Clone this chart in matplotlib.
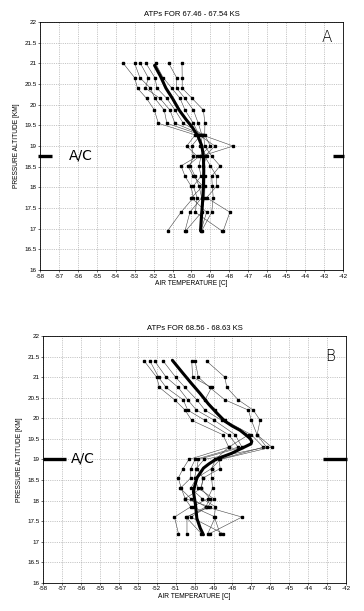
import matplotlib.pyplot as plt
import numpy as np

plt.rcParams['font.family'] = ['Liberation Sans', 'DejaVu Sans']

# ---- Panel A data (67.46 - 67.54 KS) ----
alt_a = [21.0, 20.65, 20.4, 20.15, 19.87, 19.55, 19.27, 19.0, 18.75, 18.52, 18.27, 18.03, 17.75, 17.4, 16.95]
profiles_a = [
    [-53.6, -53.0, -52.85, -52.37, -51.96, -51.75, -49.8, -50.25, -49.7, -50.55, -50.34, -50.02, -49.9, -50.55, -51.26],
    [-53.0, -52.72, -52.17, -51.93, -51.44, -51.3, -49.5, -49.99, -49.9, -50.08, -49.81, -49.6, -49.46, -50.08, -50.34],
    [-52.7, -52.28, -52.43, -51.66, -51.14, -50.87, -49.4, -49.55, -49.2, -49.37, -49.29, -49.29, -49.3, -49.46, -50.3],
    [-52.4, -51.93, -51.82, -51.3, -50.87, -50.43, -49.37, -49.29, -48.93, -48.49, -48.93, -48.9, -48.85, -48.93, -49.46],
    [-51.9, -51.49, -51.04, -50.6, -50.34, -49.9, -49.6, -48.76, -49.3, -49.0, -48.67, -48.67, -49.2, -47.97, -48.32],
    [-51.2, -50.78, -50.78, -50.34, -49.9, -49.64, -49.45, -47.8, -49.5, -49.6, -49.5, -49.9, -49.7, -49.8, -48.4],
    [-50.5, -50.49, -50.49, -49.96, -49.37, -49.29, -49.3, -49.0, -49.6, -50.2, -49.9, -49.4, -50.0, -49.2, -49.5],
]
mean_alt_a = [20.95, 20.7, 20.4, 20.15, 19.87, 19.65, 19.45, 19.23, 19.0, 18.75, 18.4, 18.0, 17.6, 17.3, 16.95]
mean_temp_a = [-51.95, -51.65, -51.35, -51.0, -50.65, -50.3, -49.95, -49.65, -49.45, -49.37, -49.35, -49.37, -49.42, -49.47, -49.52]

# ---- Panel B data (68.56 - 68.63 KS) ----
alt_b = [21.39, 21.0, 20.75, 20.45, 20.2, 19.95, 19.6, 19.3, 19.0, 18.78, 18.55, 18.3, 18.05, 17.85, 17.6, 17.2]
profiles_b = [
    [-52.65, -52.0, -51.85, -51.05, -50.5, -50.15, -48.5, -48.2, -50.3, -50.6, -50.86, -50.7, -50.5, -50.2, -51.06, -50.85],
    [-52.35, -51.9, -51.5, -50.6, -50.36, -49.45, -48.2, -47.7, -49.97, -50.2, -50.2, -50.75, -50.2, -49.4, -50.4, -50.4],
    [-52.1, -51.5, -50.86, -50.36, -49.9, -48.95, -47.85, -47.5, -49.8, -49.88, -49.55, -49.65, -50.5, -49.2, -50.45, -49.65],
    [-51.65, -51.0, -50.5, -49.88, -49.45, -48.56, -47.15, -48.2, -48.9, -49.1, -49.1, -49.05, -49.3, -50.1, -48.9, -49.3],
    [-50.15, -50.1, -49.1, -49.45, -48.9, -48.39, -47.0, -46.37, -48.7, -48.65, -49.55, -49.65, -49.2, -49.4, -47.5, -49.2],
    [-49.97, -49.8, -49.2, -48.4, -47.16, -47.0, -46.7, -45.93, -48.65, -49.1, -49.9, -50.2, -49.6, -48.9, -48.95, -48.66],
    [-49.36, -48.4, -48.3, -47.7, -46.9, -46.54, -46.7, -46.2, -49.5, -49.9, -50.0, -49.8, -49.0, -49.3, -50.2, -48.5],
]
mean_alt_b = [21.41, 21.1, 20.84, 20.6, 20.35, 20.13, 19.93, 19.81, 19.71, 19.6, 19.51, 19.44, 19.38, 19.31, 19.24, 19.15, 19.07, 18.99, 18.89, 18.79, 18.55, 18.22, 17.9, 17.57, 17.33, 17.17]
mean_temp_b = [-51.17, -50.62, -50.15, -49.7, -49.27, -48.83, -48.4, -48.0, -47.6, -47.3, -47.07, -46.98, -47.02, -47.33, -47.65, -48.04, -48.5, -48.92, -49.25, -49.53, -49.88, -50.06, -49.95, -49.88, -49.7, -49.53]

panels = [
    dict(rect=[0.110, 0.558, 0.832, 0.406], title="ATPs FOR 67.46 - 67.54 KS",
         alt=alt_a, profiles=profiles_a, mean_alt=mean_alt_a, mean_temp=mean_temp_a,
         letter="A", letter_y=21.62, ac_alt=18.75,
         left_bar=(-58.1, -57.37), right_bar=(-42.5, -41.95)),
    dict(rect=[0.118, 0.046, 0.833, 0.404], title="ATPs FOR 68.56 - 68.63 KS",
         alt=alt_b, profiles=profiles_b, mean_alt=mean_alt_b, mean_temp=mean_temp_b,
         letter="B", letter_y=21.5, ac_alt=19.0,
         left_bar=(-58.0, -56.8), right_bar=(-43.2, -41.95)),
]

fig = plt.figure(figsize=(3.64, 6.11), dpi=100)

for p in panels:
    ax = fig.add_axes(p['rect'])
    for temps in p['profiles']:
        ax.plot(temps, p['alt'], color='#444444', lw=0.4, marker='s', ms=1.8,
                mfc='black', mec='black', zorder=2)
    ax.plot(p['mean_temp'], p['mean_alt'], color='black', lw=2.2,
            solid_capstyle='round', zorder=3)

    ax.set_xlim(-58, -42)
    ax.set_ylim(16, 22)
    ax.set_xticks(np.arange(-58, -41, 1))
    ax.set_yticks(np.arange(16, 22.01, 0.5))
    ax.set_xticklabels([str(v) for v in range(-58, -41)])
    ax.set_yticklabels([f"{v:g}" for v in np.arange(16, 22.01, 0.5)])
    ax.tick_params(labelsize=4.5, length=1.5, width=0.4, pad=1)
    ax.grid(True, ls=(0, (2, 2)), color='#9a9a9a', lw=0.4)
    for s in ax.spines.values():
        s.set_linewidth(0.6)
    ax.set_title(p['title'], fontsize=5.5, pad=4)
    ax.set_xlabel("AIR TEMPERATURE [C]", fontsize=4.8, labelpad=1)
    ax.set_ylabel("PRESSURE ALTITUDE [KM]", fontsize=4.8, labelpad=3)

    # panel letter and aircraft altitude marks
    ax.text(-42.6, p['letter_y'], p['letter'], fontsize=11, ha='right', va='center',
            family=['DejaVu Sans'], fontweight='light')
    ax.plot(p['left_bar'], [p['ac_alt']] * 2, color='black', lw=2.4, clip_on=False,
            solid_capstyle='butt', zorder=4)
    ax.plot(p['right_bar'], [p['ac_alt']] * 2, color='black', lw=2.4, clip_on=False,
            solid_capstyle='butt', zorder=4)
    ax.text(-56.5, p['ac_alt'] + 0.03, "A/C", fontsize=10, ha='left', va='center',
            family=['DejaVu Sans'])

fig.savefig("out.png", dpi=100)
